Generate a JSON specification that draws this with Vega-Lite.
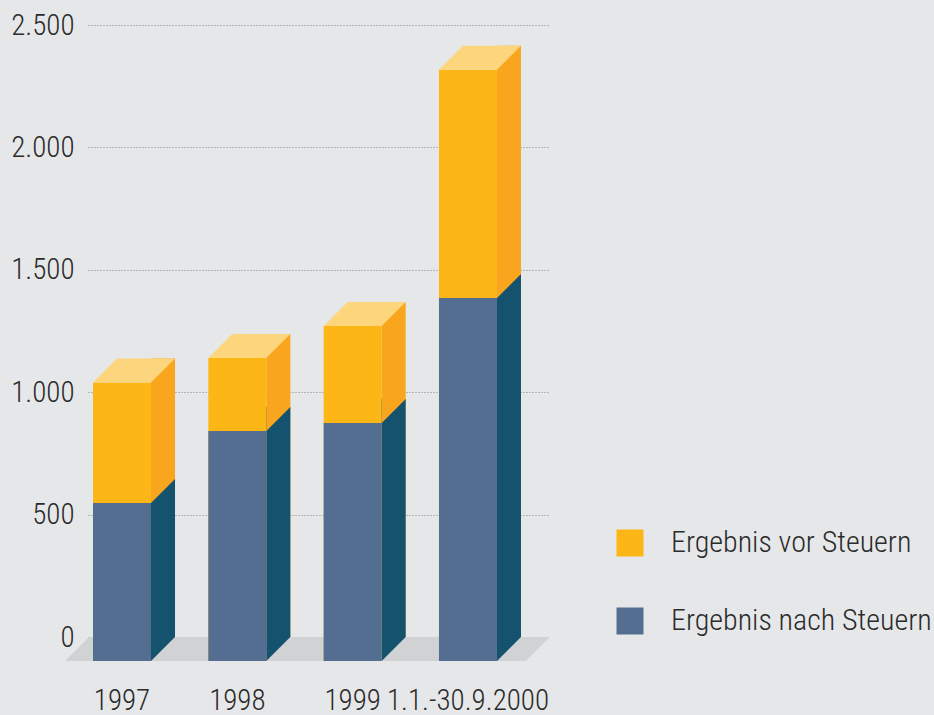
{
  "$schema": "https://vega.github.io/schema/vega-lite/v6.json",
  "width": 462,
  "height": 612,
  "autosize": {"type": "none"},
  "padding": {"left": 88, "top": 25, "right": 384, "bottom": 78},
  "background": "#e6e7e8",
  "config": {
    "view": {"stroke": null},
    "font": "Noto Sans Condensed, Roboto Condensed, Roboto, sans-serif"
  },
  "data": {
    "values": [
      {"year": "1997", "vor": 1138, "nach": 645},
      {"year": "1998", "vor": 1238, "nach": 940},
      {"year": "1999", "vor": 1368, "nach": 972},
      {"year": "1.1.-30.9.2000", "vor": 2415, "nach": 1483}
    ]
  },
  "encoding": {
    "x": {
      "field": "year",
      "type": "nominal",
      "sort": null,
      "scale": {"paddingInner": 0.497, "paddingOuter": 0.2515},
      "axis": {
        "title": null,
        "domain": false,
        "ticks": false,
        "tickSize": 0,
        "grid": false,
        "labelAngle": 0,
        "labelOffset": -24,
        "labelPadding": 72,
        "labelBaseline": "alphabetic",
        "labelFontSize": 29,
        "labelFontWeight": 300,
        "labelLimit": 400,
        "labelColor": "#2b2b2b",
        "labelFont": "Noto Sans Condensed, Roboto Condensed, Roboto, sans-serif"
      }
    }
  },
  "layer": [
    {
      "data": {"values": [{"floor": 0}]},
      "mark": {"type": "point", "shape": "M-230,0L231,0L207,24L-254,24Z", "size": 4, "filled": true, "strokeWidth": 0, "opacity": 1, "color": "#d0d2d4"},
      "encoding": {
        "x": null,
        "y": {
          "field": "floor",
          "type": "quantitative",
          "scale": {"domain": [0, 2500], "nice": false},
          "axis": {
            "title": null,
            "values": [0, 500, 1000, 1500, 2000, 2500],
            "labelExpr": "replace(format(datum.value, ',d'), ',', '.')",
            "domain": false,
            "ticks": false,
            "tickSize": 0,
            "grid": true,
            "gridColor": "#808080",
            "gridDash": [1, 2],
            "gridWidth": 1,
            "labelPadding": 14,
            "labelFontSize": 29,
            "labelFontWeight": 300,
            "labelColor": "#2b2b2b",
            "labelFont": "Noto Sans Condensed, Roboto Condensed, Roboto, sans-serif"
          }
        }
      }
    },
    {
      "mark": {"type": "bar", "width": 24, "xOffset": 17, "color": "#f9a61e"},
      "encoding": {
        "y": {"field": "vor", "type": "quantitative"},
        "y2": {"datum": 0}
      }
    },
    {
      "mark": {"type": "bar", "xOffset": -24, "yOffset": 24, "y2Offset": 24},
      "encoding": {
        "y": {"field": "vor", "type": "quantitative"},
        "y2": {"datum": 0},
        "color": {
          "datum": "Ergebnis vor Steuern",
          "type": "nominal",
          "scale": {"domain": ["Ergebnis vor Steuern", "Ergebnis nach Steuern"], "range": ["#fcb717", "#536e91"]},
          "legend": {
            "title": null,
            "orient": "none",
            "legendX": 527,
            "legendY": 503,
            "padding": 0,
            "symbolType": "square",
            "symbolSize": 729,
            "symbolStrokeWidth": 0,
            "labelFontSize": 30,
            "labelFontWeight": 300,
            "labelColor": "#2b2b2b",
            "labelFont": "Noto Sans Condensed, Roboto Condensed, Roboto, sans-serif",
            "labelOffset": 26,
            "labelLimit": 400,
            "rowPadding": 48
          }
        }
      }
    },
    {
      "mark": {"type": "bar", "width": 24, "xOffset": 17, "color": "#15526e"},
      "encoding": {
        "y": {"field": "nach", "type": "quantitative"},
        "y2": {"datum": 0}
      }
    },
    {
      "mark": {"type": "point", "shape": "M5,0L29,0L5,24Z", "size": 4, "filled": true, "strokeWidth": 0, "opacity": 1, "color": "#15526e"},
      "encoding": {
        "y": {"datum": 0, "type": "quantitative"}
      }
    },
    {
      "mark": {"type": "point", "shape": "M5,0L29,0L5,24Z", "size": 4, "filled": true, "strokeWidth": 0, "opacity": 1, "color": "#f9a61e"},
      "encoding": {
        "y": {"field": "nach", "type": "quantitative"}
      }
    },
    {
      "mark": {"type": "bar", "xOffset": -24, "yOffset": 24, "y2Offset": 24},
      "encoding": {
        "y": {"field": "nach", "type": "quantitative"},
        "y2": {"datum": 0},
        "color": {"datum": "Ergebnis nach Steuern", "type": "nominal"}
      }
    },
    {
      "mark": {"type": "point", "shape": "M-53,24L5,24L29,0L-29,0Z", "size": 4, "filled": true, "strokeWidth": 0, "opacity": 1, "color": "#fdd57c"},
      "encoding": {
        "y": {"field": "vor", "type": "quantitative"}
      }
    }
  ]
}
